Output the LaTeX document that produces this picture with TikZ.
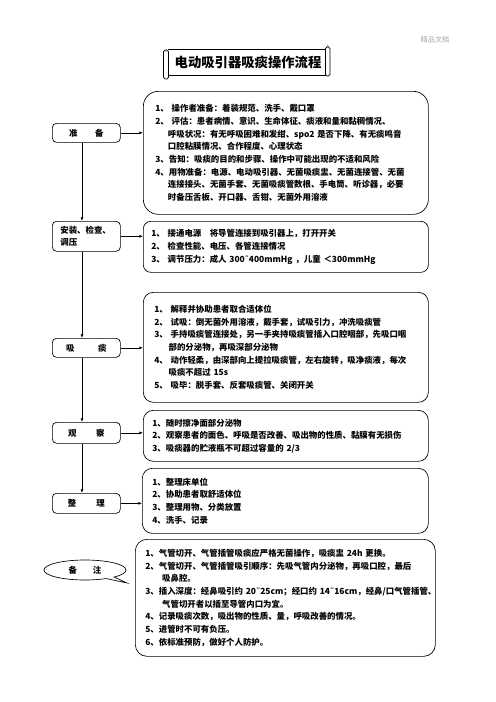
\documentclass[tikz,border=0pt]{standalone}
\usepackage{fontspec}
\setmainfont{Noto Sans CJK SC}
\newfontfamily\symfont{DejaVu Sans}
\newcommand{\tld}{{\symfont ˜}}
\usetikzlibrary{arrows.meta,shapes.callouts}

\begin{document}
\begin{tikzpicture}[
    x=1.2pt, y=-1.2pt,
    bodyfont/.style={font=\fontsize{10.1pt}{15.2pt}\selectfont\bfseries},
    stepbox/.style={draw, line width=0.8pt, rounded corners=5pt, anchor=north west,
        minimum width=81.6pt, inner sep=0pt, align=center, bodyfont},
    infobox/.style={draw, line width=0.8pt, rounded corners=12pt, anchor=north west,
        align=left, inner ysep=0pt, bodyfont},
    flow/.style={line width=0.8pt, -{Latex[length=4.5pt, width=3.6pt]}},
    scroll/.style={line width=0.8pt}
]
\useasboundingbox (0,0) rectangle (496,702);

% corner mark
\node[gray!70, font=\fontsize{8.6pt}{10pt}\selectfont] (mark) at (435,40) {精品文档};

% title scroll
\draw[scroll] (168,49) -- (326,49);
\draw[scroll] (169,75) -- (326,75);
\draw[scroll, rounded corners=2pt, fill=white] (163.5,50) rectangle (168.5,79);
\draw[scroll, rounded corners=2pt, fill=white] (325.5,47) rectangle (330,76);
\fill[gray] (166,50.5) circle (1.6pt);
\fill[gray] (327.8,46.5) circle (1.6pt);
\node[font=\fontsize{16pt}{18pt}\selectfont\bfseries] (title) at (248,62) {电动吸引器吸痰操作流程};

% left column
\node[stepbox, minimum height=22.8pt] (prep) at (52,123) {准\hspace{2.1em}备};
\node[stepbox, minimum height=36pt, align=left, inner xsep=9.6pt, text width=62.4pt] (install) at (52,221)
    {安装、检查、\\调压};
\node[stepbox, minimum height=22.8pt] (suction) at (52,338) {吸\hspace{2.8em}痰};
\node[stepbox, minimum height=25.2pt] (observe) at (52,422) {观\hspace{2.3em}察};
\node[stepbox, minimum height=24pt] (tidy) at (52,493) {整\hspace{2.4em}理};
\node[ellipse callout, draw, line width=0.8pt, minimum width=98.4pt, minimum height=24pt,
    inner sep=0pt, callout absolute pointer={(127,583)}, callout pointer arc=14, bodyfont]
    (note) at (85,570) {备\hspace{1.9em}注};

% right column
\node[infobox, rounded corners=18pt, inner xsep=14.4pt, text width=313.2pt, minimum height=147.6pt] (prepinfo) at (143,91)
    {1、 操作者准备：着装规范、洗手、戴口罩\\
     2、 评估：患者病情、意识、生命体征、痰液和量和黏稠情况、\\
     \hspace*{1.5em}呼吸状况：有无呼吸困难和发绀、spo2~是否下降、有无痰鸣音\\
     \hspace*{1.5em}口腔粘膜情况、合作程度、心理状态\\
     3、告知：吸痰的目的和步骤、操作中可能出现的不适和风险\\
     4、用物准备：电源、电动吸引器、无菌吸痰盅、无菌连接管、无菌\\
     \hspace*{1.5em}连接接头、无菌手套、无菌吸痰管数根、手电筒、听诊器，必要\\
     \hspace*{1.5em}时备压舌板、开口器、舌钳、无菌外用溶液};
\node[infobox, rounded corners=9pt, inner xsep=9.6pt, text width=322.8pt, minimum height=61.2pt] (installinfo) at (143,221)
    {1、 接通电源\hspace{1em}将导管连接到吸引器上，打开开关\\
     2、 检查性能、电压、各管连接情况\\
     3、 调节压力：成人~300\tld400mmHg~，儿童~＜300mmHg};
\node[infobox, inner xsep=13.2pt, text width=315.6pt, minimum height=132pt] (suctioninfo) at (143,292)
    {1、 解释并协助患者取合适体位\\
     2、 试吸：倒无菌外用溶液，戴手套，试吸引力，冲洗吸痰管\\
     3、 手持吸痰管连接处，另一手夹持吸痰管插入口腔咽部，先吸口咽\\
     \hspace*{1.7em}部的分泌物，再吸深部分泌物\\
     4、 动作轻柔，由深部向上提拉吸痰管，左右旋转，吸净痰液，每次\\
     \hspace*{1.7em}吸痰不超过~15s\\
     5、 吸毕：脱手套、反套吸痰管、关闭开关};
\node[infobox, inner xsep=10.8pt, text width=320.4pt, minimum height=61.2pt] (observeinfo) at (143,410)
    {1、随时擦净面部分泌物\\
     2、观察患者的面色、呼吸是否改善、吸出物的性质、黏膜有无损伤\\
     3、吸痰器的贮液瓶不可超过容量的~2/3};
\node[infobox, inner xsep=12pt, text width=319.2pt, minimum height=78pt] (tidyinfo) at (142,468)
    {1、整理床单位\\
     2、协助患者取舒适体位\\
     3、整理用物、分类放置\\
     4、洗手、记录};
\node[infobox, rounded corners=14pt, inner xsep=12pt, text width=336pt, minimum height=140.4pt] (noteinfo) at (135,539)
    {1、气管切开、气管插管吸痰应严格无菌操作，吸痰盅~24h~更换。\\
     2、气管切开、气管插管吸引顺序：先吸气管内分泌物，再吸口腔，最后\\
     \hspace*{2em}吸鼻腔。\\
     3、插入深度：经鼻吸引约~20\tld25cm；经口约~14\tld16cm，经鼻/口气管插管、\\
     \hspace*{2em}气管切开者以插至导管内口为宜。\\
     4、记录吸痰次数，吸出物的性质、量，呼吸改善的情况。\\
     5、进管时不可有负压。\\
     6、依标准预防，做好个人防护。};

% connectors
\coordinate (spine) at (82,0);
\draw[flow] (prep.south -| spine) -- (install.north -| spine);
\draw[flow] (install.south -| spine) -- (suction.north -| spine);
\draw[flow] (suction.south -| spine) -- (observe.north -| spine);
\draw[flow] (observe.south -| spine) -- (tidy.north -| spine);
\draw[flow] (prep.east) -- (prep.east -| prepinfo.west);
\draw[flow] (install.east) -- (install.east -| installinfo.west);
\draw[flow] (suction.east) -- (suction.east -| suctioninfo.west);
\draw[flow] (observe.east) -- (observe.east -| observeinfo.west);
\draw[flow] (tidy.east) -- (tidy.east -| tidyinfo.west);
\end{tikzpicture}
\end{document}
